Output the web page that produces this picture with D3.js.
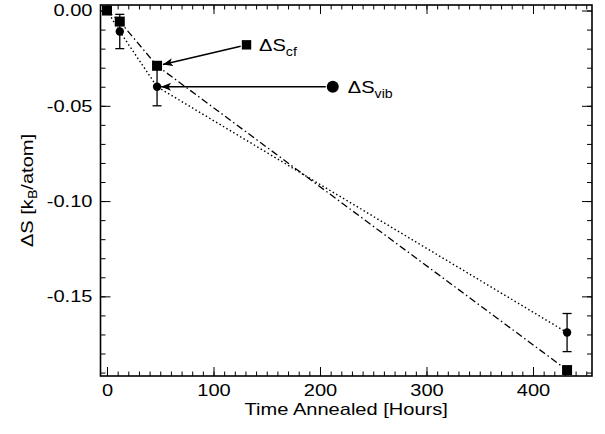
<!DOCTYPE html>
<html>
<head>
<meta charset="utf-8">
<script src="https://cdn.jsdelivr.net/npm/d3@7"></script>
<style>
body { margin: 0; background: #fff; }
text { font-family: "Liberation Sans", Arial, Helvetica, sans-serif; fill: #000; }
</style>
</head>
<body>
<script>
// data
var hours = [0, 12, 47, 432];
var dScf = [0, -0.0058, -0.029, -0.1887];
var dSvib = [0, -0.011, -0.040, -0.169];
var errVib = [0, 0.009, 0.010, 0.010];

var xTicks = [0, 100, 200, 300, 400];
var yTicks = [0, -0.05, -0.10, -0.15];

// label positions (data units) and the point each arrow points to
var legendHours = [131, 212];
var legendValues = [-0.018, -0.040];
var legendTarget = [2, 2];

var w = 605, h = 434;
var pLeft = 100.5, pRight = 592, pTop = 5, pBottom = 376;

var svg = d3.select("body").append("svg")
  .attr("width", w)
  .attr("height", h);

var x = d3.scaleLinear().domain([-6.1, 455.4]).range([pLeft, pRight]);
var y = d3.scaleLinear().domain([-0.1918, 0.0029]).range([pBottom, pTop]);

var xMinor = d3.range(0, 451, 10);
var yMinor = d3.range(0, 20).map(function(i) { return -i / 100; });

function fmtY(d) { return Math.abs(d) < 1e-9 ? "0.00" : d.toFixed(2); }

// major + minor ticks on all four sides, pointing inward
function addAxis(axis, tr) {
  var g = svg.append("g").attr("transform", tr).call(axis);
  g.select(".domain").remove();
  g.selectAll(".tick line").attr("stroke", "#000").attr("stroke-width", 1);
  g.selectAll("text").style("font-size", "17px").style("font-family", null);
  return g;
}

addAxis(d3.axisBottom(x).tickValues(xTicks).tickSizeInner(-9).tickSizeOuter(0).tickPadding(8), "translate(0," + pBottom + ")");
addAxis(d3.axisBottom(x).tickValues(xMinor).tickSizeInner(-4.5).tickSizeOuter(0).tickFormat(""), "translate(0," + pBottom + ")");
addAxis(d3.axisTop(x).tickValues(xTicks).tickSizeInner(-9).tickSizeOuter(0).tickFormat(""), "translate(0," + pTop + ")");
addAxis(d3.axisTop(x).tickValues(xMinor).tickSizeInner(-4.5).tickSizeOuter(0).tickFormat(""), "translate(0," + pTop + ")");

addAxis(d3.axisLeft(y).tickValues(yTicks).tickSizeInner(-10).tickSizeOuter(0).tickPadding(8).tickFormat(fmtY), "translate(" + pLeft + ",0)");
addAxis(d3.axisLeft(y).tickValues(yMinor).tickSizeInner(-5).tickSizeOuter(0).tickFormat(""), "translate(" + pLeft + ",0)");
addAxis(d3.axisRight(y).tickValues(yTicks).tickSizeInner(-10).tickSizeOuter(0).tickFormat(""), "translate(" + pRight + ",0)");
addAxis(d3.axisRight(y).tickValues(yMinor).tickSizeInner(-5).tickSizeOuter(0).tickFormat(""), "translate(" + pRight + ",0)");

// frame
svg.append("rect")
  .attr("x", pLeft).attr("y", pTop)
  .attr("width", pRight - pLeft).attr("height", pBottom - pTop)
  .attr("fill", "none").attr("stroke", "#000").attr("stroke-width", 1.6);

// axis titles
svg.append("text")
  .attr("x", (pLeft + pRight) / 2).attr("y", 415)
  .attr("text-anchor", "middle")
  .style("font-size", "17px")
  .text("Time Annealed [Hours]");

var yt = svg.append("text")
  .attr("transform", "translate(33," + (pTop + pBottom) / 2 + ") rotate(-90)")
  .attr("text-anchor", "middle")
  .style("font-size", "17px");
yt.append("tspan").text("\u0394S [k");
yt.append("tspan").attr("dy", 4).style("font-size", "12px").text("B");
yt.append("tspan").attr("dy", -4).text("/atom]");

var plot = svg.append("g");

// lines
var line = d3.line().x(function(d, i) { return x(hours[i]); }).y(function(d) { return y(d); });
plot.append("path")
  .datum(dScf)
  .attr("d", line)
  .attr("fill", "none").attr("stroke", "#000").attr("stroke-width", 1.3)
  .attr("stroke-dasharray", "7,3,1.5,3");

plot.append("path")
  .datum(dSvib)
  .attr("d", line)
  .attr("fill", "none").attr("stroke", "#000").attr("stroke-width", 1.4)
  .attr("stroke-dasharray", "1.5,2.5");

// error bars on the vibrational points
var errData = [];
hours.forEach(function(hr, i) {
  if (errVib[i] > 0) errData.push({ h: hr, v: dSvib[i], e: errVib[i] });
});
var eb = plot.selectAll(".err").data(errData)
  .enter().append("g").attr("class", "err")
  .attr("stroke", "#000").attr("stroke-width", 1.3);
eb.append("line")
  .attr("x1", function(d) { return x(d.h); }).attr("x2", function(d) { return x(d.h); })
  .attr("y1", function(d) { return y(d.v + d.e); }).attr("y2", function(d) { return y(d.v - d.e); });
eb.append("line")
  .attr("x1", function(d) { return x(d.h) - 4.5; }).attr("x2", function(d) { return x(d.h) + 4.5; })
  .attr("y1", function(d) { return y(d.v + d.e); }).attr("y2", function(d) { return y(d.v + d.e); });
eb.append("line")
  .attr("x1", function(d) { return x(d.h) - 4.5; }).attr("x2", function(d) { return x(d.h) + 4.5; })
  .attr("y1", function(d) { return y(d.v - d.e); }).attr("y2", function(d) { return y(d.v - d.e); });

// markers
plot.selectAll(".vib").data(dSvib).enter().append("circle")
  .attr("cx", function(d, i) { return x(hours[i]); })
  .attr("cy", function(d) { return y(d); })
  .attr("r", 4.2).attr("fill", "#000");

plot.selectAll(".cf").data(dScf).enter().append("rect")
  .attr("x", function(d, i) { return x(hours[i]) - 5; })
  .attr("y", function(d) { return y(d) - 5; })
  .attr("width", 10).attr("height", 10).attr("fill", "#000");

// arrow head
svg.append("svg:defs").append("svg:marker")
  .attr("id", "arrow")
  .attr("markerUnits", "userSpaceOnUse")
  .attr("refX", 10).attr("refY", 4)
  .attr("markerWidth", 12).attr("markerHeight", 10)
  .attr("orient", "auto")
  .append("path")
  .attr("d", "M 0 0 L 10 4 L 0 8 L 2.5 4 Z")
  .style("fill", "black");

// labels with arrows
var series = [
  { vals: dScf, sub: "cf", shape: "square", gap0: 6, gap1: 6, tx: 12.5 },
  { vals: dSvib, sub: "vib", shape: "circle", gap0: 7, gap1: 4, tx: 15 }
];

series.forEach(function(s, k) {
  var x0 = x(legendHours[k]), y0 = y(legendValues[k]);
  var x1 = x(hours[legendTarget[k]]), y1 = y(s.vals[legendTarget[k]]);
  var dx = x1 - x0, dy = y1 - y0, len = Math.sqrt(dx * dx + dy * dy);
  var ux = dx / len, uy = dy / len;

  svg.append("line")
    .attr("x1", x0 + ux * s.gap0).attr("y1", y0 + uy * s.gap0)
    .attr("x2", x1 - ux * s.gap1).attr("y2", y1 - uy * s.gap1)
    .attr("stroke", "#000").attr("stroke-width", 1.5)
    .attr("marker-end", "url(#arrow)");

  if (s.shape === "square") {
    svg.append("rect").attr("x", x0 - 4.7).attr("y", y0 - 4.7)
      .attr("width", 9.4).attr("height", 9.4).attr("fill", "#000");
  } else {
    svg.append("circle").attr("cx", x0).attr("cy", y0).attr("r", 6).attr("fill", "#000");
  }

  var t = svg.append("text")
    .attr("x", x0 + s.tx).attr("y", y0 + 6)
    .style("font-size", "17px");
  t.append("tspan").text("\u0394S");
  t.append("tspan").attr("dy", 5).style("font-size", "12px").text(s.sub);
});

// the original lettering is a wide sans; stretch it sideways
svg.selectAll("text").each(function() {
  var l = this.getComputedTextLength();
  if (l > 0) d3.select(this).attr("textLength", l * 1.18).attr("lengthAdjust", "spacingAndGlyphs");
});
</script>
</body>
</html>
